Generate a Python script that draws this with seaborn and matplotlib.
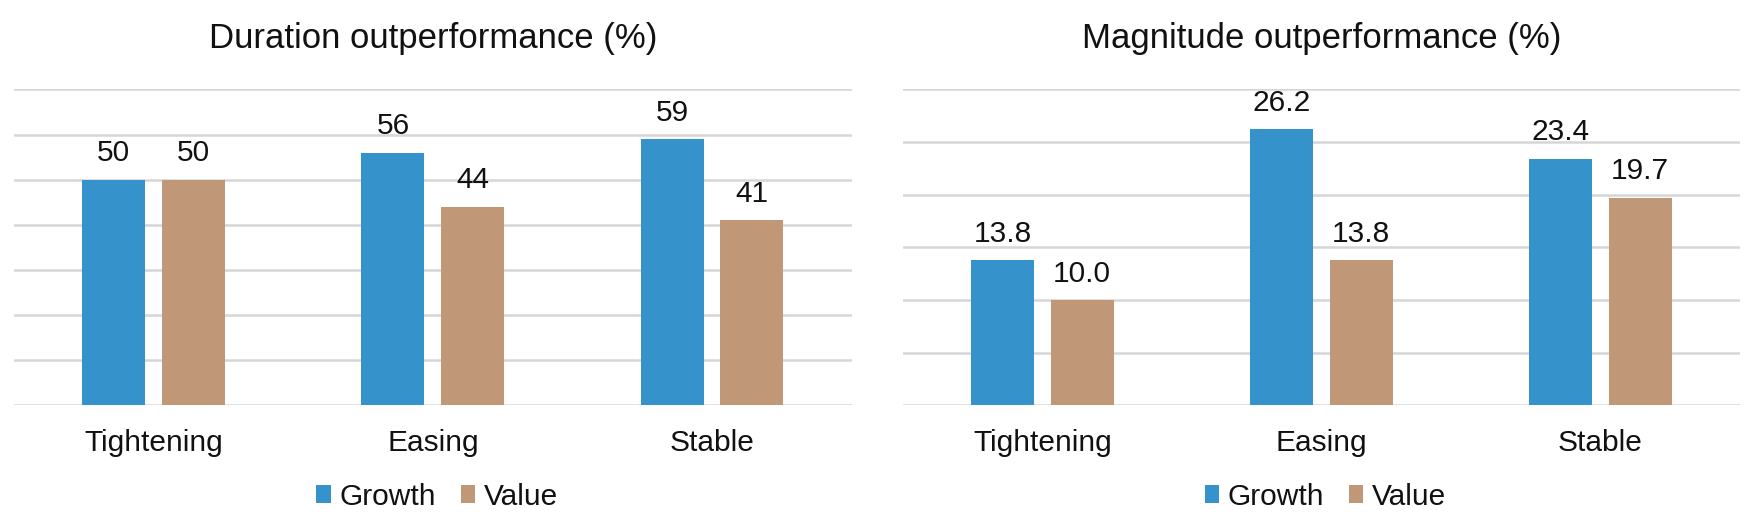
import matplotlib
matplotlib.use("Agg")
import matplotlib.pyplot as plt
import seaborn as sns
import pandas as pd

categories = ["Tightening", "Easing", "Stable"]
series = ["Growth", "Value"]
duration_growth = [50, 56, 59]
duration_value = [50, 44, 41]
magnitude_growth = [13.8, 26.2, 23.4]
magnitude_value = [10.0, 13.8, 19.7]

titles = ["Duration outperformance (%)", "Magnitude outperformance (%)"]
colors = {"Growth": "#3592CB", "Value": "#C09878"}

sns.set_theme(style="white")
plt.rcParams["font.family"] = ["Liberation Sans", "DejaVu Sans"]

fig = plt.figure(figsize=(17.59, 5.29), dpi=100)
ax1 = fig.add_axes([0.00796, 0.2335, 0.4762, 0.5975])
ax2 = fig.add_axes([0.5132, 0.2335, 0.4760, 0.5975])


def make_df(g, v):
    rows = []
    for c, a, b in zip(categories, g, v):
        rows.append({"Category": c, "Series": "Growth", "Val": a})
        rows.append({"Category": c, "Series": "Value", "Val": b})
    return pd.DataFrame(rows)


panels = [
    (ax1, make_df(duration_growth, duration_value), titles[0], 70, 10, "{:.0f}"),
    (ax2, make_df(magnitude_growth, magnitude_value), titles[1], 30, 5, "{:.1f}"),
]

for ax, df, title, ymax, step, fmt in panels:
    sns.barplot(data=df, x="Category", y="Val", hue="Series", order=categories,
                hue_order=series, palette=colors, width=0.571, gap=0.21,
                saturation=1, linewidth=0, ax=ax, zorder=3)
    ax.set_ylim(0, ymax)
    ax.set_xlim(-0.5, 2.5)
    ax.set_yticks(list(range(0, ymax + 1, step)))
    ax.yaxis.grid(True, color="#D6D6D6", linewidth=1.8, zorder=0)
    ax.xaxis.grid(False)
    ax.set_axisbelow(True)
    ax.set_yticklabels([])
    ax.tick_params(axis="y", length=0)
    ax.tick_params(axis="x", length=0, pad=17, labelsize=21.5, labelcolor="#111111")
    for s in ax.spines.values():
        s.set_visible(False)
    ax.set_xlabel("")
    ax.set_ylabel("")
    ax.set_title(title, fontsize=25, pad=29.6, color="#111111")
    for cont in ax.containers:
        ax.bar_label(cont, fmt=fmt, padding=9, fontsize=21.5, color="#111111")
    ax.legend(loc="center", bbox_to_anchor=(0.505, -0.288), ncol=2, frameon=False,
              fontsize=21.5, handlelength=0.48, handleheight=0.55, handletextpad=0.29,
              columnspacing=0.83, labelcolor="#111111")

fig.savefig("out.png", dpi=100, facecolor="white")
